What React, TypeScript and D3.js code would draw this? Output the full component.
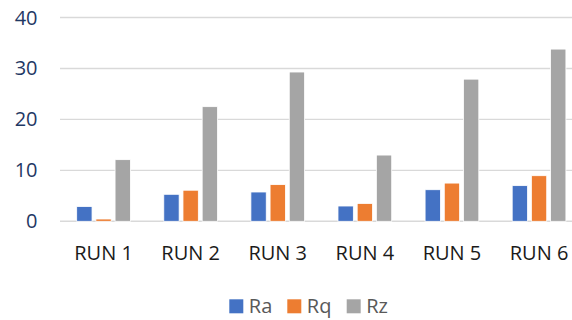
import React from "react";
import * as d3 from "d3";

const categories = ["RUN 1", "RUN 2", "RUN 3", "RUN 4", "RUN 5", "RUN 6"];
const seriesNames = ["Ra", "Rq", "Rz"];
const raValues = [2.9, 5.3, 5.75, 3.0, 6.2, 7.0];
const rqValues = [0.45, 6.1, 7.2, 3.5, 7.5, 8.95];
const rzValues = [12.1, 22.5, 29.3, 13.0, 27.9, 33.8];
const yTicks = [0, 10, 20, 30, 40];
const colors = ["#4472C4", "#ED7D31", "#A5A5A5"];

const W = 572;
const H = 320;
const FONT = "'Open Sans', 'Liberation Sans', sans-serif";

export default function App() {
  const seriesValues = [raValues, rqValues, rzValues];
  const x0 = d3.scaleBand<string>().domain(categories).range([60, 582.6]).padding(0);
  const x1 = d3
    .scaleBand<string>()
    .domain(seriesNames)
    .range([0, x0.bandwidth()])
    .paddingInner(0.2)
    .paddingOuter(0.87);
  const y = d3.scaleLinear().domain([0, 40]).range([221.3, 17.5]);

  const legendX = [229.3, 287.3, 346.7];

  return (
    <svg
      width={W}
      height={H}
      style={{ position: "absolute", left: 0, top: 0, background: "#fff" }}
    >
      {yTicks.map((t) => (
        <g key={t}>
          <line x1={60} x2={W} y1={y(t)} y2={y(t)} stroke="#D9D9D9" strokeWidth={1.4} />
          <text
            x={37.5}
            y={y(t)}
            dy="0.35em"
            textAnchor="end"
            fontFamily={FONT}
            fontSize={20}
            fill="#1F3864"
          >
            {t}
          </text>
        </g>
      ))}
      {categories.map((c, i) => (
        <g key={c} transform={`translate(${x0(c)},0)`}>
          {seriesNames.map((s, j) => {
            const v = seriesValues[j][i];
            return (
              <rect
                key={s}
                x={x1(s)}
                y={y(v)}
                width={x1.bandwidth()}
                height={y(0) - y(v)}
                fill={colors[j]}
                stroke="#ffffff"
                strokeWidth={0.8}
              />
            );
          })}
          <text
            x={x0.bandwidth() / 2}
            y={260}
            textAnchor="middle"
            fontFamily={FONT}
            fontSize={20}
            fill="#1a1a1a"
          >
            {c}
          </text>
        </g>
      ))}
      {seriesNames.map((s, j) => (
        <g key={s} transform={`translate(${legendX[j]},0)`}>
          <rect x={0} y={299.3} width={14} height={14} fill={colors[j]} />
          <text x={19.5} y={313.3} fontFamily={FONT} fontSize={20} fill="#595959">
            {s}
          </text>
        </g>
      ))}
    </svg>
  );
}
